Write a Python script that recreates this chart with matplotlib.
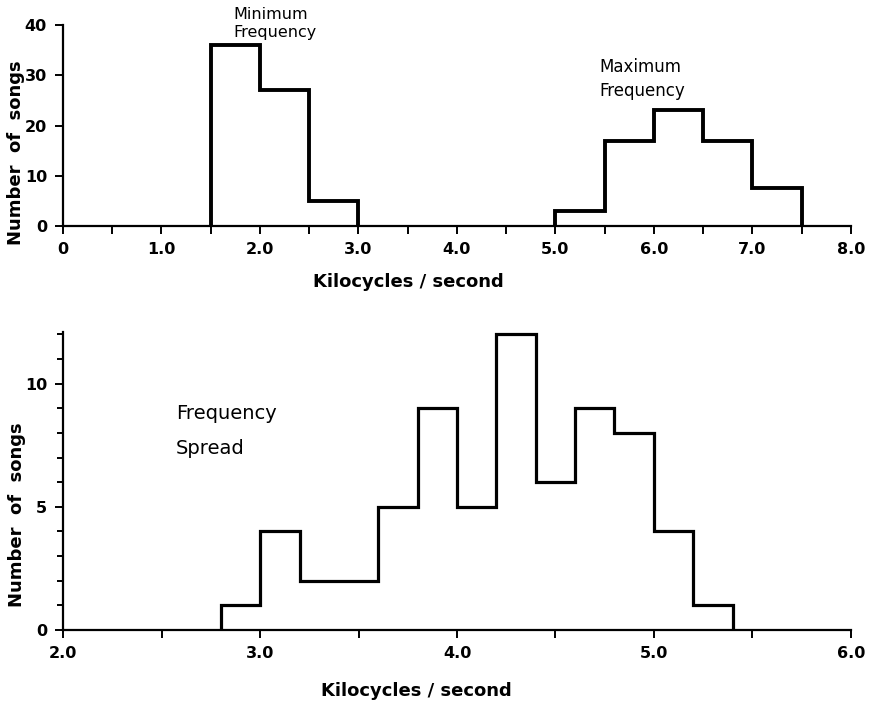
import matplotlib.pyplot as plt

# minimum and maximum frequency, 0.5 kc/s bins
min_edges = [1.5, 2.0, 2.5, 3.0]
min_counts = [36, 27, 5]
max_edges = [5.0, 5.5, 6.0, 6.5, 7.0, 7.5]
max_counts = [3, 17, 23, 17, 7.5]

# frequency spread, 0.2 kc/s bins
spread_edges = [2.8, 3.0, 3.2, 3.4, 3.6, 3.8, 4.0, 4.2, 4.4, 4.6, 4.8, 5.0, 5.2, 5.4]
spread_counts = [1, 4, 2, 2, 5, 9, 5, 12, 6, 9, 8, 4, 1]

top_xticks = [0, 1, 2, 3, 4, 5, 6, 7, 8]
top_xlabels = ['0', '1.0', '2.0', '3.0', '4.0', '5.0', '6.0', '7.0', '8.0']
top_yticks = [0, 10, 20, 30, 40]
bot_xticks = [2, 3, 4, 5, 6]
bot_xlabels = ['2.0', '3.0', '4.0', '5.0', '6.0']
bot_yticks = [0, 5, 10]

plt.rcParams['font.family'] = 'DejaVu Sans'
fig = plt.figure(figsize=(8.71, 7.02), dpi=100)

def style(ax):
    for s in ['top', 'right']:
        ax.spines[s].set_visible(False)
    for s in ['left', 'bottom']:
        ax.spines[s].set_linewidth(1.6)
    ax.tick_params(which='both', direction='out', width=1.4, length=5.5,
                   labelsize=11.5, pad=6)
    for lab in ax.get_xticklabels() + ax.get_yticklabels():
        lab.set_fontweight('bold')

# top panel
ax1 = fig.add_axes([0.0723, 0.678, 0.9047, 0.2863])
ax1.stairs(min_counts, min_edges, baseline=0, color='black', lw=2.8)
ax1.stairs(max_counts, max_edges, baseline=0, color='black', lw=2.8)
ax1.set_xlim(0, 8)
ax1.set_ylim(0, 40)
ax1.set_xticks(top_xticks)
ax1.set_xticklabels(top_xlabels)
ax1.set_xticks([0.5, 1.5, 2.5, 3.5, 4.5, 5.5, 6.5, 7.5], minor=True)
ax1.set_yticks(top_yticks)
style(ax1)
ax1.set_xlabel('Kilocycles / second', fontsize=13, fontweight='bold')
ax1.xaxis.set_label_coords(0.438, -0.234)
ax1.set_ylabel('Number  of  songs', fontsize=13, fontweight='bold')
ax1.yaxis.set_label_coords(-0.048, 0.363)
ax1.text(1.73, 40.4, 'Minimum\nFrequency', fontsize=11.5, va='center',
         ha='left', linespacing=1.25, clip_on=False)
ax1.text(5.45, 29.3, 'Maximum\nFrequency', fontsize=12, va='center',
         ha='left', linespacing=1.4)

# bottom panel
ax2 = fig.add_axes([0.0727, 0.1026, 0.904, 0.4245])
ax2.stairs(spread_counts, spread_edges, baseline=0, color='black', lw=2.3)
ax2.set_xlim(2, 6)
ax2.set_ylim(0, 12.1)
ax2.set_xticks(bot_xticks)
ax2.set_xticklabels(bot_xlabels)
ax2.set_xticks([2.5, 3.5, 4.5, 5.5], minor=True)
ax2.set_yticks(bot_yticks)
ax2.set_yticks([1, 2, 3, 4, 6, 7, 8, 9, 11, 12], minor=True)
style(ax2)
ax2.tick_params(axis='y', which='minor', length=4)
ax2.set_xlabel('Kilocycles / second', fontsize=13, fontweight='bold')
ax2.xaxis.set_label_coords(0.449, -0.174)
ax2.set_ylabel('Number  of  songs', fontsize=13, fontweight='bold')
ax2.yaxis.set_label_coords(-0.048, 0.386)
ax2.text(2.573, 8.79, 'Frequency', fontsize=14, va='center', ha='left')
ax2.text(2.573, 7.38, 'Spread', fontsize=14, va='center', ha='left')

fig.savefig('out.png', dpi=100)
